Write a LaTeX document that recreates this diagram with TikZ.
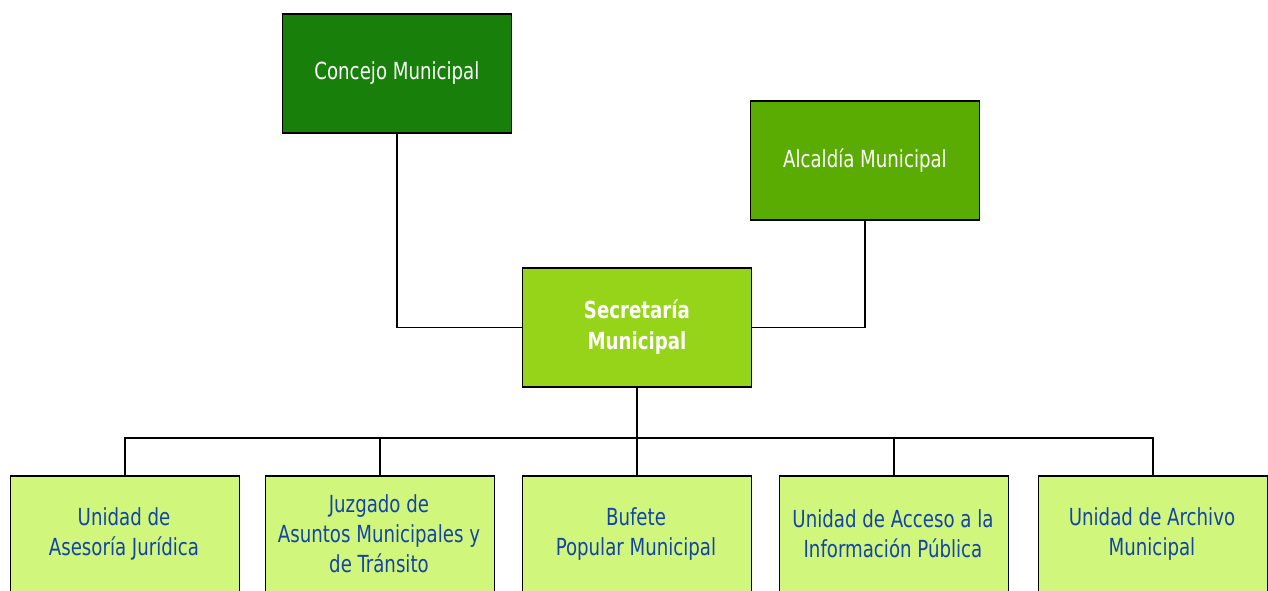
\documentclass[tikz,border=0pt]{standalone}
\usepackage{fontspec}
\setmainfont{DejaVu Sans Condensed}[FakeStretch=0.86]
\definecolor{cdark}{HTML}{18800A}
\definecolor{cmid}{HTML}{5AAB02}
\definecolor{csec}{HTML}{96D41A}
\definecolor{clight}{HTML}{D0F77C}
\definecolor{ctext}{HTML}{1444A8}
\begin{document}
\begin{tikzpicture}[x=1pt,y=-1pt,
  box/.style={draw=black,line width=1.9pt,minimum width=229pt,minimum height=119pt,inner sep=0pt,align=center,anchor=north west},
  topbox/.style={box,text=white,font=\fontsize{23.5}{30}\selectfont},
  unitbox/.style={box,fill=clight,minimum height=160pt},
  unittext/.style={text=ctext,font=\fontsize{23.5}{30}\selectfont,align=center},
  conn/.style={draw=black,line width=1.8pt}]
\useasboundingbox (0,0) rectangle (1268,591);
\begin{scope}
\clip (0,0) rectangle (1268,591);
\node[topbox,fill=cdark] (concejo) at (281.5,13) {Concejo Municipal};
\node[topbox,fill=cmid] (alcaldia) at (749.5,100) {Alcaldía Municipal};
\node[topbox,fill=csec,font=\bfseries\fontsize{23.5}{31}\selectfont] (sec) at (521.5,267) {Secretaría\\Municipal};
\node[unitbox] (u1) at (9.5,475) {};
\node[unitbox] (u2) at (264.5,475) {};
\node[unitbox] (u3) at (521.5,475) {};
\node[unitbox] (u4) at (778.5,475) {};
\node[unitbox] (u5) at (1037.5,475) {};
\node[unittext] (t1) at (124,534) {Unidad de\\Asesoría Jurídica};
\node[unittext] (t2) at (379,534) {Juzgado de\\Asuntos Municipales y\\de Tránsito};
\node[unittext] (t3) at (636,534) {Bufete\\Popular Municipal};
\node[unittext] (t4) at (893,534) {Unidad de Acceso a la\\Información Pública};
\node[unittext] (t5) at (1152,534) {Unidad de Archivo\\Municipal};
\end{scope}
\path (sec.south) ++(0,50) coordinate (bus);
\draw[conn] (concejo.south) |- (sec.west);
\draw[conn] (alcaldia.south) |- (sec.east);
\draw[conn] (sec.south) -- (bus);
\draw[conn] (u1.north) |- (bus) -| (u5.north);
\draw[conn] (u2.north) -- (u2.north |- bus);
\draw[conn] (u3.north) -- (u3.north |- bus);
\draw[conn] (u4.north) -- (u4.north |- bus);
\end{tikzpicture}
\end{document}
